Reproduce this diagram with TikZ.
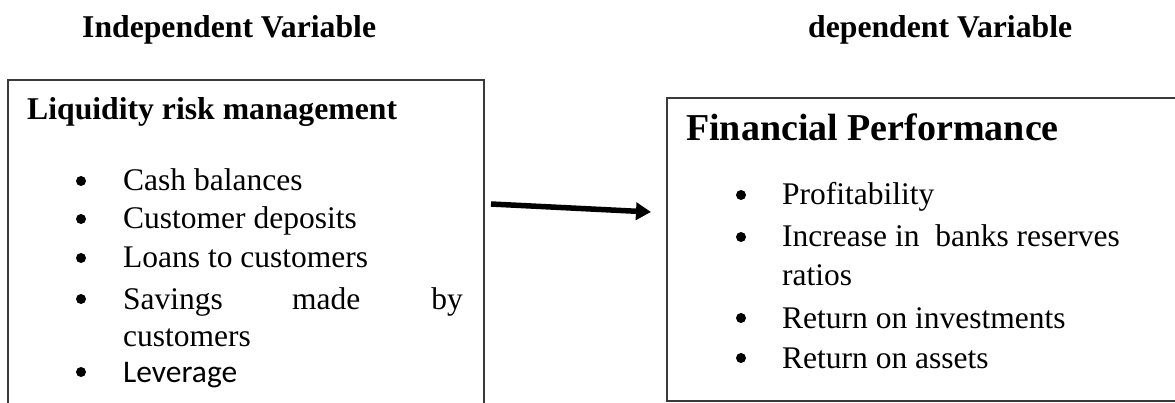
\documentclass[tikz,border=0pt]{standalone}
\usepackage{fontspec}
\setmainfont{Liberation Serif}
\newfontfamily\calfont{Carlito}
\usetikzlibrary{arrows.meta}
\definecolor{boxgray}{HTML}{3A3A3A}
\tikzset{
  frame/.style={draw=boxgray, line width=2pt},
  txt/.style={anchor=base west, inner sep=0pt, font=\fontsize{31.5}{38}\selectfont},
  head/.style={anchor=base west, inner sep=0pt, font=\fontsize{31.7}{38}\selectfont\bfseries},
  bighead/.style={anchor=base west, inner sep=0pt, font=\fontsize{38}{44}\selectfont\bfseries},
  bul/.style={circle, fill=black, inner sep=0pt, minimum size=10pt},
  link/.style={line width=5.5pt, -{Triangle[length=15pt,width=17pt]}}
}
\begin{document}
\begin{tikzpicture}[x=1pt,y=-1pt]
\useasboundingbox (0,0) rectangle (1175,403);
\clip (0,0) rectangle (1175,403);
\fill[white] (0,0) rectangle (1175,403);
% titles
\node[head] (t1) at (82,38) {Independent Variable};
\node[head] (t2) at (808,38) {dependent Variable};
% left box
\draw[frame] (8,410) -- (8,80) -- (484,80) -- (484,410);
\node[head] (lh) at (27,120) {Liquidity risk management};
\node[bul] (lb1) at (81,181) {};
\node[txt] (l1) at (123,191) {Cash balances};
\node[bul] (lb2) at (81,219) {};
\node[txt] (l2) at (123,229) {Customer deposits};
\node[bul] (lb3) at (81,258) {};
\node[txt] (l3) at (123,268) {Loans to customers};
\node[bul] (lb4) at (81,299) {};
\node[txt] (l4a) at (123,309) {Savings};
\node[txt] (l4b) at (292,309) {made};
\node[txt, anchor=base east] (l4c) at (463,309) {by};
\node[txt] (l4d) at (123,346) {customers};
\node[bul] (lb5) at (81,372) {};
\node[txt, font=\fontsize{31.5}{38}\selectfont\calfont] (l5) at (123,382) {Leverage};
% right box
\draw[frame] (1180,98) -- (667,98) -- (667,401) -- (1180,401);
\node[bighead] (rh) at (686,141) {Financial Performance};
\node[bul] (rb1) at (741,195) {};
\node[txt] (r1) at (782,205) {Profitability};
\node[bul] (rb2) at (741,237) {};
\node[txt] (r2) at (782,247) {Increase in\ \ banks reserves};
\node[txt] (r2b) at (782,286) {ratios};
\node[bul] (rb3) at (741,318) {};
\node[txt] (r3) at (782,328) {Return on investments};
\node[bul] (rb4) at (741,358) {};
\node[txt] (r4) at (782,368) {Return on assets};
% arrow
\coordinate (as) at (491,204);
\coordinate (ae) at (651,212);
\draw[link] (as) -- (ae);
\end{tikzpicture}
\end{document}
